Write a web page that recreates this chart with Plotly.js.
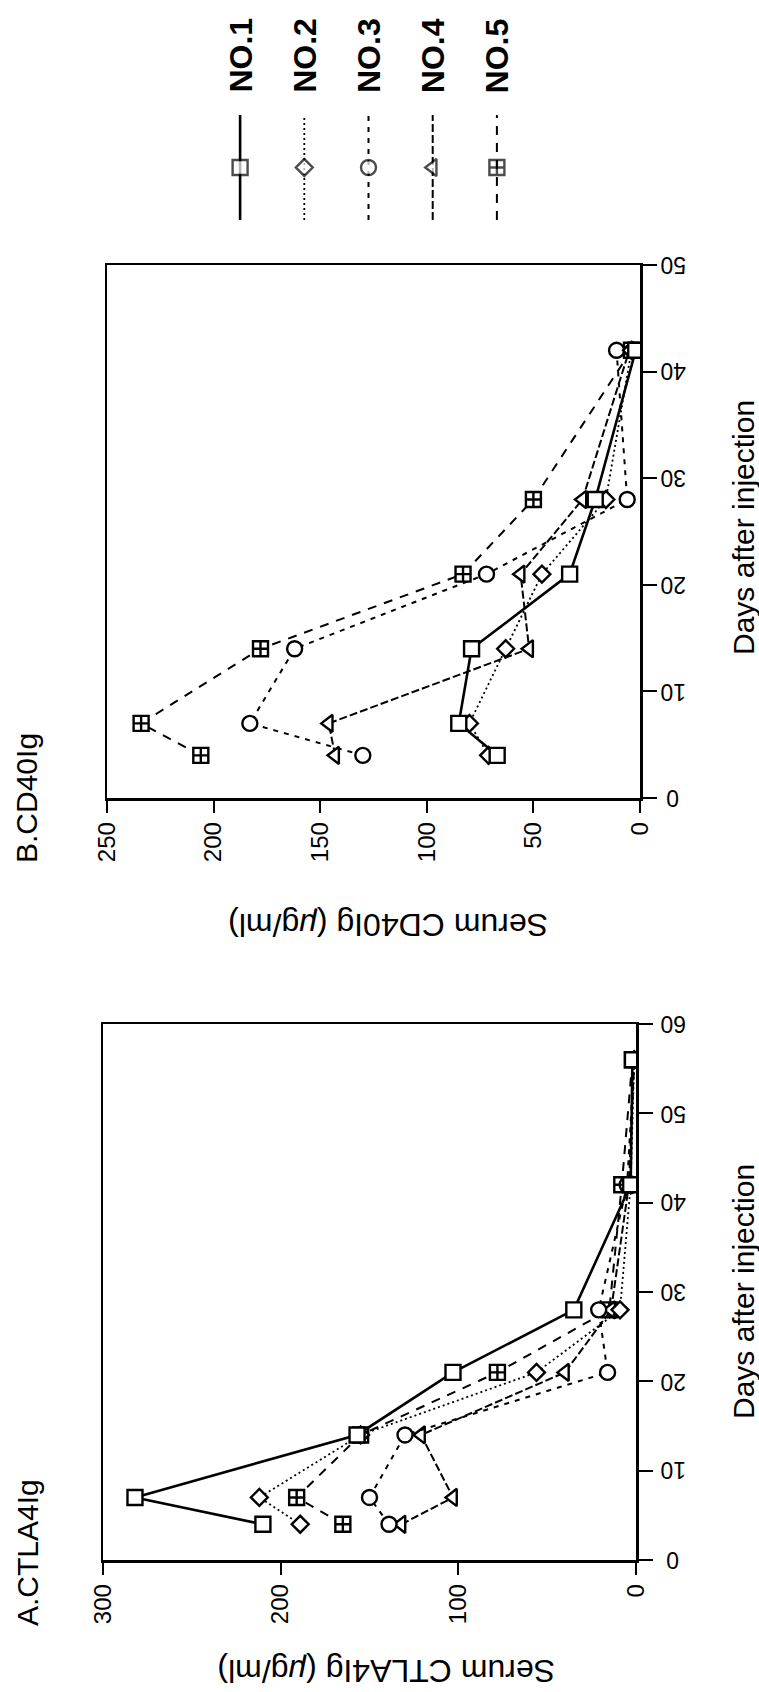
<!DOCTYPE html>
<html>
<head>
<meta charset="utf-8">
<script src="https://cdn.plot.ly/plotly-3.0.1.min.js"></script>
<style>
  html, body { margin: 0; padding: 0; background: #fff; }
  #chart { width: 759px; height: 1692px; }
</style>
</head>
<body>
<div id="chart"></div>
<script>
// ---------- data ----------
const seriesNames = ['NO.1', 'NO.2', 'NO.3', 'NO.4', 'NO.5'];

// Panel A: CTLA4Ig
const daysA = [4, 7, 14, 21, 28, 42, 56];
const ctlaNo1 = [210, 282, 157, 103, 35, 3, 2];
const ctlaNo2 = [189, 212, 155, 56, 9, 3, 1];
const ctlaNo3 = [139, 150, 130, 16, 21, 5, 1];
const ctlaNo4 = [132, 103, 121, 40, 14, 4, 1];
const ctlaNo5 = [165, 191, 155, 78, 15, 8, 2];

// Panel B: CD40Ig
const daysB = [4, 7, 14, 21, 28, 42];
const cd40No1 = [67, 85, 79, 33, 21, 2];
const cd40No2 = [71, 80, 63, 46, 16, 4];
const cd40No3 = [130, 183, 162, 72, 6, 11];
const cd40No4 = [143, 146, 52, 56, 27, 5];
const cd40No5 = [206, 234, 178, 83, 50, 4];

// tick labels
const serumTicksA = [0, 100, 200, 300];
const serumTicksB = [0, 50, 100, 150, 200, 250];
const dayTicksA = [0, 10, 20, 30, 40, 50, 60];
const dayTicksB = [0, 10, 20, 30, 40, 50];

const panelTitles = ['A.CTLA4Ig', 'B.CD40Ig'];
const serumTitles = ['Serum CTLA4Ig (<i>μ</i>g/ml)', 'Serum CD40Ig (<i>μ</i>g/ml)'];
const dayTitle = 'Days after injection';

// ---------- styles ----------
const W = 759, H = 1692;
const FONT = 'Liberation Sans, Arial, Helvetica, sans-serif';
const symbols = ['square', 'diamond', 'circle', 'triangle-left', 'square-cross'];
const msizes = [15, 13, 15, 15, 15];
const dashes = ['solid', '2px,3px', '5px,6px', '8px,3px', '9px,8px'];
const lwidths = [2.6, 1.8, 2, 2, 2];

const dataA = [ctlaNo1, ctlaNo2, ctlaNo3, ctlaNo4, ctlaNo5];
const dataB = [cd40No1, cd40No2, cd40No3, cd40No4, cd40No5];

function px(v) { return v / W; }
function py(v) { return 1 - v / H; }

const traces = [];
// draw NO.5 first so NO.1 ends on top
for (let i = seriesNames.length - 1; i >= 0; i--) {
  const common = {
    type: 'scatter', mode: 'lines+markers', name: seriesNames[i], showlegend: false,
    line: { color: 'black', width: lwidths[i], dash: dashes[i] },
    marker: { symbol: symbols[i], size: msizes[i], color: 'white',
              line: { color: 'black', width: 2.4 } },
    hoverinfo: 'skip'
  };
  traces.push(Object.assign({}, common, { x: dataB[i], y: daysB, xaxis: 'x', yaxis: 'y' }));
  traces.push(Object.assign({}, common, { x: dataA[i], y: daysA, xaxis: 'x2', yaxis: 'y2' }));
  // legend key
  traces.push({
    type: 'scatter', mode: 'lines+markers', showlegend: false, hoverinfo: 'skip',
    x: [i, i, i], y: [0, 0.5, 1], xaxis: 'x3', yaxis: 'y3',
    line: { color: 'black', width: lwidths[i], dash: dashes[i] },
    marker: { symbol: symbols[i], size: [0, msizes[i], 0], color: 'white',
              line: { color: 'black', width: [0, 2.4, 0] } }
  });
}

function serumAxis(domain, range, ticks, anchor) {
  return {
    domain: domain, range: range, anchor: anchor,
    tickmode: 'array', tickvals: ticks, ticktext: ticks.map(String),
    tickangle: -90, ticks: 'outside', ticklen: 12, tickwidth: 2, tickcolor: 'black',
    showline: true, linewidth: 2.5, linecolor: 'black', mirror: true,
    showgrid: false, zeroline: false,
    tickfont: { family: FONT, size: 24, color: 'black' }
  };
}
function dayAxis(domain, range, ticks, anchor) {
  return {
    domain: domain, range: range, anchor: anchor, side: 'right',
    tickmode: 'array', tickvals: ticks, showticklabels: false,
    ticks: 'outside', ticklen: 14, tickwidth: 2, tickcolor: 'black',
    showline: true, linewidth: 2.5, linecolor: 'black', mirror: true,
    showgrid: false, zeroline: false
  };
}

const annotations = [];
function note(text, x, y, angle, size, extra) {
  return Object.assign({ text: text, xref: 'paper', yref: 'paper', x: x, y: y,
    xanchor: 'center', yanchor: 'middle', textangle: angle, showarrow: false,
    font: { family: FONT, size: size, color: 'black' } }, extra || {});
}
// panel titles
annotations.push(note(panelTitles[0], px(27), py(1553), -90, 30));
annotations.push(note(panelTitles[1], px(27), py(798), -90, 30));
// serum axis titles (upside down)
annotations.push(note(serumTitles[0], px(386), py(1671), 180, 32));
annotations.push(note(serumTitles[1], px(388), py(925), 180, 32));
// day axis titles
annotations.push(note(dayTitle, px(743), py(1292), -90, 30));
annotations.push(note(dayTitle, px(743), py(528), -90, 30));
// day tick labels (upside down, right of the plot)
dayTicksB.forEach(v => annotations.push(note(String(v), px(673), v, 180, 23, { yref: 'y' })));
dayTicksA.forEach(v => annotations.push(note(String(v), px(673), v, 180, 23, { yref: 'y2' })));
// legend labels
seriesNames.forEach((n, i) => {
  annotations.push(note('<b>' + n + '</b>', i, py(16), -90, 32, { xref: 'x3', yanchor: 'top' }));
});

const layout = {
  width: W, height: H,
  margin: { l: 0, r: 0, t: 0, b: 0, pad: 0 },
  paper_bgcolor: 'white', plot_bgcolor: 'white',
  showlegend: false,
  xaxis: serumAxis([px(107), px(640)], [250, 0], serumTicksB, 'y'),
  yaxis: dayAxis([py(798), py(265)], [0, 50], dayTicksB, 'x'),
  xaxis2: serumAxis([px(103), px(636)], [300, 0], serumTicksA, 'y2'),
  yaxis2: dayAxis([py(1560), py(1024)], [0, 60], dayTicksA, 'x2'),
  xaxis3: { domain: [px(208), px(529)], range: [-0.5, 4.5], anchor: 'y3', visible: false, fixedrange: true },
  yaxis3: { domain: [py(220), py(115)], range: [0, 1], anchor: 'x3', visible: false, fixedrange: true },
  annotations: annotations
};

Plotly.newPlot('chart', traces, layout, { displayModeBar: false, staticPlot: true });
</script>
</body>
</html>
